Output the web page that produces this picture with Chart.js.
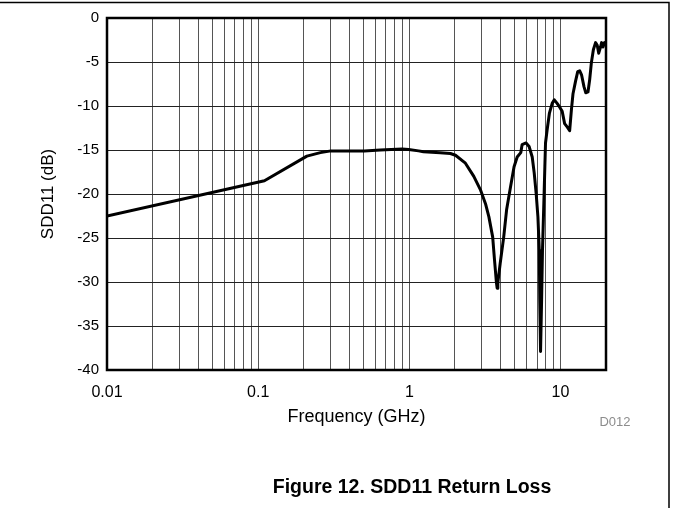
<!DOCTYPE html>
<html>
<head>
<meta charset="utf-8">
<title>SDD11 Return Loss</title>
<script src="https://cdn.jsdelivr.net/npm/chart.js@4.4.0/dist/chart.umd.min.js"></script>
<style>
  html, body { margin: 0; padding: 0; background: #fff; }
  canvas { display: block; }
</style>
</head>
<body>
<canvas id="returnLoss" width="673" height="508"></canvas>
<script>
// measured differential return loss
const freqGHz = [
  0.01, 0.11, 0.21, 0.258, 0.303, 0.504, 0.643, 0.895, 0.99, 1.15, 1.24,
  1.6, 1.87, 2.02, 2.35, 2.67, 2.95, 3.19, 3.36, 3.56, 3.66, 3.77, 3.81,
  3.85, 3.99, 4.21, 4.4, 4.67, 4.93, 5.17, 5.46, 5.57, 5.92, 6.2, 6.5, 6.7,
  6.9, 7.09, 7.24, 7.29, 7.38, 7.5, 7.6, 7.77, 7.88, 7.96, 8.16, 8.45, 8.81,
  9.1, 9.5, 9.85, 10.26, 10.65, 11.1, 11.5, 11.8, 12.1, 12.57, 13.0, 13.4,
  13.8, 14.3, 14.7, 15.2, 15.6, 16.0, 16.5, 17.06, 17.5, 17.9, 18.4, 18.7,
  19.1, 19.55, 20,
];
const sdd11dB = [
  -22.5, -18.5, -15.7, -15.3, -15.1, -15.1, -15.0, -14.9, -14.95, -15.1,
  -15.2, -15.3, -15.4, -15.6, -16.5, -18.0, -19.5, -21.1, -22.6, -24.9,
  -27.5, -30.1, -30.7, -30.1, -27.9, -24.9, -21.8, -19.2, -16.9, -15.8,
  -15.3, -14.4, -14.2, -14.6, -15.8, -17.6, -19.9, -22.6, -26.4, -32.0,
  -37.9, -32.0, -26.4, -20.7, -16.9, -14.2, -12.7, -10.8, -9.7, -9.3, -9.7,
  -10.1, -10.6, -12.0, -12.4, -12.8, -10.5, -8.6, -7.2, -6.1, -6.0, -6.5,
  -7.8, -8.5, -8.4, -7.0, -5.1, -3.6, -2.8, -3.1, -4.0, -3.3, -2.8, -3.3,
  -2.8, -3.0,
];

const xLabelValues = [0.01, 0.1, 1, 10];
const xLabelText = ["0.01", "0.1", "1", "10"];
const xMin = 0.01;
const xMax = 20;

const yMin = -40;
const yMax = 0;
const yStep = 5;

const xTitle = "Frequency (GHz)";
const yTitle = "SDD11 (dB)";
const figureCaption = "Figure 12. SDD11 Return Loss";
const figureId = "D012";

const fontFamily = "'Liberation Sans', Arial, Helvetica, sans-serif";

// grid at 1..9 of every decade, up to the axis end
function logGridValues(min, max) {
  const values = [];
  for (let decade = min; decade < max; decade *= 10) {
    for (let k = 1; k <= 9; k++) {
      const v = +(k * decade).toPrecision(6);
      if (v >= min && v <= max) values.push(v);
    }
  }
  if (values[values.length - 1] !== max) values.push(max);
  return values;
}

const pageDecor = {
  id: "pageDecor",
  afterDraw(chart) {
    const { ctx, chartArea } = chart;
    ctx.save();

    // heavy frame around the plot
    ctx.strokeStyle = "#000";
    ctx.lineWidth = 2.5;
    ctx.strokeRect(
      chartArea.left,
      chartArea.top,
      chartArea.right - chartArea.left,
      chartArea.bottom - chartArea.top
    );

    // page rules: top and right
    ctx.lineWidth = 1.5;
    ctx.beginPath();
    ctx.moveTo(0, 2.5);
    ctx.lineTo(669, 2.5);
    ctx.lineTo(669, 508);
    ctx.stroke();

    ctx.fillStyle = "#8c8c8c";
    ctx.font = `13px ${fontFamily}`;
    ctx.textAlign = "center";
    ctx.textBaseline = "middle";
    ctx.fillText(figureId, 615, 422);

    ctx.fillStyle = "#000";
    ctx.font = `bold 19.5px ${fontFamily}`;
    ctx.fillText(figureCaption, 412, 488);

    ctx.restore();
  },
};

const ctx = document.getElementById("returnLoss").getContext("2d");

new Chart(ctx, {
  type: "line",
  data: {
    datasets: [
      {
        label: yTitle,
        data: freqGHz.map((f, i) => ({ x: f, y: sdd11dB[i] })),
        borderColor: "#000",
        borderWidth: 3,
        borderJoinStyle: "round",
        borderCapStyle: "round",
        pointRadius: 0,
        fill: false,
        tension: 0,
      },
    ],
  },
  options: {
    responsive: false,
    devicePixelRatio: 1,
    animation: false,
    layout: {
      padding: { left: 0, top: 18, right: 67, bottom: 80 },
    },
    scales: {
      x: {
        type: "logarithmic",
        min: xMin,
        max: xMax,
        afterBuildTicks: (axis) => {
          axis.ticks = logGridValues(xMin, xMax).map((v) => ({ value: v }));
        },
        afterFit: (axis) => {
          axis.height = 58;
        },
        grid: {
          color: "#555",
          lineWidth: 1,
          drawTicks: false,
        },
        border: { display: false },
        ticks: {
          autoSkip: false,
          maxRotation: 0,
          padding: 13,
          color: "#000",
          font: { family: fontFamily, size: 16 },
          callback: (value) => {
            const idx = xLabelValues.findIndex(
              (v) => Math.abs(v - value) < v * 1e-6
            );
            return idx >= 0 ? xLabelText[idx] : "";
          },
        },
        title: {
          display: true,
          text: xTitle,
          color: "#000",
          font: { family: fontFamily, size: 18 },
          padding: 0,
        },
      },
      y: {
        type: "linear",
        min: yMin,
        max: yMax,
        afterFit: (axis) => {
          axis.width = 107;
        },
        grid: {
          color: "#222",
          lineWidth: 1,
          drawTicks: false,
        },
        border: { display: false },
        ticks: {
          stepSize: yStep,
          padding: 8,
          color: "#000",
          font: { family: fontFamily, size: 15 },
        },
        title: {
          display: true,
          text: yTitle,
          color: "#000",
          font: { family: fontFamily, size: 17 },
          padding: { top: 38, bottom: 0 },
        },
      },
    },
    plugins: {
      legend: { display: false },
      tooltip: { enabled: false },
    },
  },
  plugins: [pageDecor],
});
</script>
</body>
</html>
